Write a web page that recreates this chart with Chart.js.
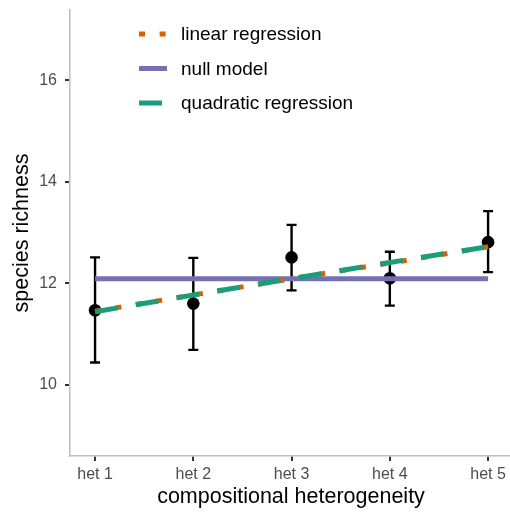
<!DOCTYPE html>
<html>
<head>
<meta charset="utf-8">
<script src="https://cdn.jsdelivr.net/npm/chart.js@4.4.1/dist/chart.umd.min.js"></script>
<style>
  html, body { margin: 0; padding: 0; background: #fff; }
  #wrap { width: 510px; height: 514px; }
</style>
</head>
<body>
<div id="wrap"><canvas id="chart" width="510" height="514"></canvas></div>
<script>
// values
const categories = ['het 1', 'het 2', 'het 3', 'het 4', 'het 5'];
const richnessMean = [11.47, 11.60, 12.51, 12.10, 12.81];
const richnessLow = [10.44, 10.69, 11.86, 11.56, 12.22];
const richnessHigh = [12.51, 12.50, 13.15, 12.62, 13.42];
const linearFit = [11.45, 11.77, 12.09, 12.40, 12.72];
const quadraticFit = [11.44, 11.77, 12.09, 12.41, 12.72];
const nullFit = [12.09, 12.09, 12.09, 12.09, 12.09];
const yTicks = [10, 12, 14, 16];
const legendOrder = ['linear regression', 'null model', 'quadratic regression'];

const FONT = '"Liberation Sans", Arial, sans-serif';
const toXY = arr => arr.map((v, i) => ({ x: i + 1, y: v }));

// no extra room for tick labels, the panel fills the canvas edges
const noPad = s => { s.paddingTop = 0; s.paddingBottom = 0; s.paddingLeft = 0; s.paddingRight = 0; };

const errorBars = {
  id: 'errorBars',
  beforeDatasetsDraw(chart) {
    const { ctx, scales: { x, y } } = chart;
    ctx.save();
    ctx.strokeStyle = '#000';
    ctx.lineWidth = 2.4;
    categories.forEach((c, i) => {
      const px = x.getPixelForValue(i + 1);
      const top = y.getPixelForValue(richnessHigh[i]);
      const bot = y.getPixelForValue(richnessLow[i]);
      ctx.beginPath();
      ctx.moveTo(px, top); ctx.lineTo(px, bot);
      ctx.moveTo(px - 5, top); ctx.lineTo(px + 5, top);
      ctx.moveTo(px - 5, bot); ctx.lineTo(px + 5, bot);
      ctx.stroke();
    });
    ctx.restore();
  }
};

const extras = {
  id: 'extras',
  afterDraw(chart) {
    const { ctx, chartArea } = chart;
    ctx.save();
    // axis titles
    ctx.fillStyle = '#000';
    ctx.font = '21.5px ' + FONT;
    ctx.textAlign = 'center';
    ctx.textBaseline = 'middle';
    ctx.fillText('compositional heterogeneity', 291, 497);
    ctx.translate(22, (chartArea.top + chartArea.bottom) / 2);
    ctx.rotate(-Math.PI / 2);
    ctx.fillText('species richness', 0, 0);
    ctx.restore();

    // legend inside the panel
    ctx.save();
    ctx.font = '19px ' + FONT;
    ctx.textAlign = 'left';
    ctx.textBaseline = 'middle';
    legendOrder.forEach((name, i) => {
      const ds = chart.data.datasets.find(d => d.label === name);
      const yy = 34 + i * 34.5;
      ctx.strokeStyle = ds.borderColor;
      ctx.lineWidth = ds.borderWidth;
      ctx.setLineDash(ds.borderDash || []);
      ctx.lineCap = 'butt';
      ctx.beginPath();
      ctx.moveTo(139, yy);
      ctx.lineTo(167, yy);
      ctx.stroke();
      ctx.setLineDash([]);
      ctx.fillStyle = '#000';
      ctx.fillText(name, 181, yy + 1);
    });
    ctx.restore();
  }
};

new Chart(document.getElementById('chart'), {
  type: 'line',
  data: {
    datasets: [
      {
        label: 'quadratic regression',
        data: toXY(quadraticFit),
        borderColor: '#1B9E77',
        borderWidth: 5,
        borderDash: [23, 18.3],
        pointRadius: 0,
        tension: 0,
        order: 0
      },
      {
        label: 'linear regression',
        data: toXY(linearFit),
        borderColor: '#D95F02',
        borderWidth: 5,
        borderDash: [6, 14.65],
        pointRadius: 0,
        tension: 0,
        order: 1
      },
      {
        label: 'null model',
        data: toXY(nullFit),
        borderColor: '#7570B3',
        borderWidth: 5,
        pointRadius: 0,
        tension: 0,
        order: 2
      },
      {
        label: 'observed',
        data: toXY(richnessMean),
        showLine: false,
        pointRadius: 6.3,
        pointBackgroundColor: '#000',
        pointBorderWidth: 0,
        order: 3
      }
    ]
  },
  options: {
    responsive: false,
    animation: false,
    layout: { autoPadding: false, padding: { top: 10, right: 0, left: 0, bottom: 0 } },
    plugins: { legend: { display: false }, tooltip: { enabled: false } },
    scales: {
      x: {
        type: 'linear',
        min: 0.745,
        max: 5.223,
        afterBuildTicks: s => { s.ticks = categories.map((c, i) => ({ value: i + 1 })); },
        afterFit: s => { s.height = 58; noPad(s); },
        ticks: {
          autoSkip: false,
          maxRotation: 0,
          padding: 4,
          color: '#4D4D4D',
          font: { family: FONT, size: 16 },
          callback: v => categories[Math.round(v) - 1] || ''
        },
        grid: { drawOnChartArea: false, drawTicks: true, tickLength: 5, color: '#333', lineWidth: 2 },
        border: { display: true, color: '#BEBEBE', width: 1.5 }
      },
      y: {
        type: 'linear',
        min: 8.6,
        max: 17.38,
        afterBuildTicks: s => { s.ticks = yTicks.map(v => ({ value: v })); },
        afterFit: s => { s.width = 70; noPad(s); },
        ticks: {
          padding: 8,
          color: '#4D4D4D',
          font: { family: FONT, size: 16 }
        },
        grid: { drawOnChartArea: false, drawTicks: true, tickLength: 5, color: '#333', lineWidth: 2 },
        border: { display: true, color: '#BEBEBE', width: 1.5 }
      }
    }
  },
  plugins: [errorBars, extras]
});
</script>
</body>
</html>
